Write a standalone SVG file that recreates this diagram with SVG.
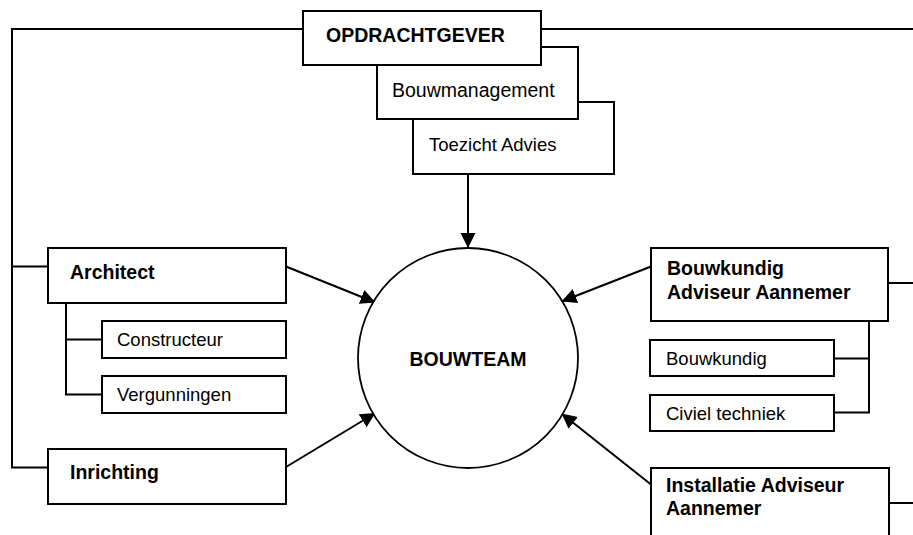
<svg xmlns="http://www.w3.org/2000/svg" width="913" height="535" viewBox="0 0 913 535">
<style>
  .box{fill:#fff;stroke:#000;stroke-width:2}
  .ln{fill:none;stroke:#000;stroke-width:2}
  .b{font-family:"Liberation Sans",Arial,sans-serif;font-weight:bold;font-size:19.5px;fill:#000}
  .r{font-family:"Liberation Sans",Arial,sans-serif;font-size:18.5px;fill:#000}
  .r2{font-family:"Liberation Sans",Arial,sans-serif;font-size:19.5px;fill:#000}
</style>
<defs>
  <marker id="ah" markerUnits="userSpaceOnUse" markerWidth="16" markerHeight="16" refX="15" refY="7.5" orient="auto" viewBox="0 0 16 16">
    <path d="M0,0 L15,7.5 L0,15 Z" fill="#000"/>
  </marker>
</defs>
<rect width="913" height="535" fill="#fff"/>
<g id="connectors">
  <path class="ln" d="M303,29 H12 V467.5 H48"/>
  <path class="ln" d="M12,266.5 H48"/>
  <path class="ln" d="M541,29 H913"/>
  <path class="ln" d="M66,303 V394.5 H102"/>
  <path class="ln" d="M66,339.5 H102"/>
  <path class="ln" d="M869,321 V412.5 H834"/>
  <path class="ln" d="M869,358.5 H834"/>
  <path class="ln" d="M888,283 H913"/>
  <path class="ln" d="M889,503 H913"/>
  <line class="ln" x1="468" y1="174" x2="468" y2="248" marker-end="url(#ah)"/>
  <line class="ln" x1="286" y1="266.5" x2="375.5" y2="302.5" marker-end="url(#ah)"/>
  <line class="ln" x1="286" y1="467" x2="375.5" y2="413" marker-end="url(#ah)"/>
  <line class="ln" x1="651" y1="266.5" x2="561.5" y2="301.5" marker-end="url(#ah)"/>
  <line class="ln" x1="651" y1="484.5" x2="561.5" y2="413.5" marker-end="url(#ah)"/>
</g>
<g id="toezicht">
  <rect class="box" x="413" y="102" width="201" height="72"/>
  <text class="r" x="429" y="151">Toezicht Advies</text>
</g>
<g id="bouwmanagement">
  <rect class="box" x="377" y="47" width="201" height="72"/>
  <text class="r2" x="392" y="97">Bouwmanagement</text>
</g>
<g id="opdrachtgever">
  <rect class="box" x="303" y="11" width="238" height="54"/>
  <text class="b" x="326" y="41.5">OPDRACHTGEVER</text>
</g>
<g id="bouwteam">
  <circle cx="468" cy="358" r="110" fill="#fff" stroke="#000" stroke-width="1.8"/>
  <text class="b" x="468" y="366" text-anchor="middle">BOUWTEAM</text>
</g>
<g id="architect">
  <rect class="box" x="48" y="248" width="238" height="55"/>
  <text class="b" x="70" y="278.5">Architect</text>
</g>
<g id="constructeur">
  <rect class="box" x="102" y="321" width="184" height="37"/>
  <text class="r" x="117" y="346">Constructeur</text>
</g>
<g id="vergunningen">
  <rect class="box" x="102" y="376" width="184" height="37"/>
  <text class="r" x="117" y="401">Vergunningen</text>
</g>
<g id="inrichting">
  <rect class="box" x="48" y="449" width="238" height="55"/>
  <text class="b" x="70" y="478.5">Inrichting</text>
</g>
<g id="bouwkundig-adviseur">
  <rect class="box" x="651" y="248" width="237" height="73"/>
  <text class="b" x="667" y="274.5">Bouwkundig</text>
  <text class="b" x="667" y="298.5">Adviseur Aannemer</text>
</g>
<g id="bouwkundig">
  <rect class="box" x="650" y="340" width="184" height="36"/>
  <text class="r" x="666" y="364.5">Bouwkundig</text>
</g>
<g id="civiel">
  <rect class="box" x="650" y="395" width="184" height="36"/>
  <text class="r" x="666" y="419.5">Civiel techniek</text>
</g>
<g id="installatie">
  <rect class="box" x="651" y="468" width="238" height="90"/>
  <text class="b" x="666" y="492">Installatie Adviseur</text>
  <text class="b" x="666" y="515">Aannemer</text>
</g>
</svg>
